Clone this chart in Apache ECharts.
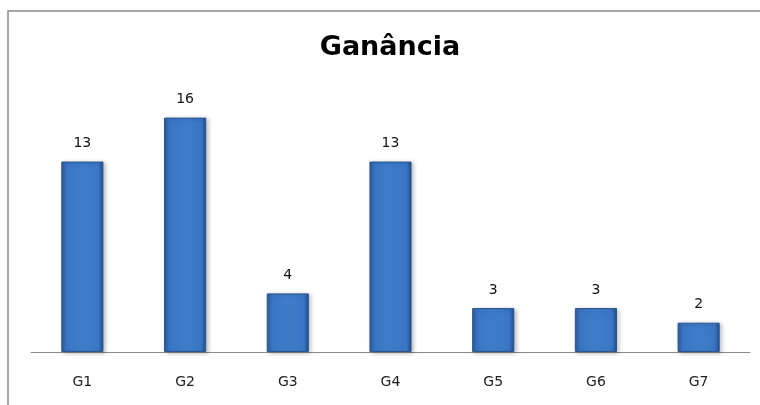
<!DOCTYPE html>
<html>
<head>
<meta charset="utf-8">
<script src="https://cdn.jsdelivr.net/npm/echarts@6/dist/echarts.min.js"></script>
<style>html,body{margin:0;padding:0;background:#fff}#c{width:760px;height:405px}</style>
</head>
<body>
<div id="c"></div>
<script>
const titleText = 'Ganância';
const categories = ['G1', 'G2', 'G3', 'G4', 'G5', 'G6', 'G7'];
const values = [13, 16, 4, 13, 3, 3, 2];

const chart = echarts.init(document.getElementById('c'));
chart.setOption({
  animation: false,
  backgroundColor: '#fff',
  title: {
    text: titleText,
    left: 385, top: 29, textAlign: 'center',
    textStyle: { fontFamily: 'DejaVu Sans', fontWeight: 'bold', fontSize: 27, color: '#000' }
  },
  graphic: [{
    type: 'rect', silent: true,
    shape: { x: 8, y: 11, width: 800, height: 500 },
    style: { fill: 'none', stroke: '#8a8a8a', lineWidth: 1.5 }
  }],
  grid: { left: 31, right: 10, top: 88.3, bottom: 53, containLabel: false },
  xAxis: {
    type: 'category', data: categories,
    axisLine: { lineStyle: { color: '#8c8c8c', width: 1 } },
    axisTick: { show: false },
    axisLabel: { color: '#222', fontFamily: 'DejaVu Sans', fontSize: 14, margin: 23 }
  },
  yAxis: { type: 'value', min: 0, max: 18, show: false, splitLine: { show: false } },
  series: [{
    type: 'bar', data: values, barWidth: '41%',
    itemStyle: {
      color: new echarts.graphic.LinearGradient(0, 0, 1, 0, [
        { offset: 0, color: '#2b5c9e' },
        { offset: 0.12, color: '#3a76c5' },
        { offset: 0.5, color: '#3e7cca' },
        { offset: 0.88, color: '#3a76c5' },
        { offset: 1, color: '#234e88' }
      ]),
      borderColor: '#2a5590', borderWidth: 1,
      shadowColor: 'rgba(0,0,0,0.25)', shadowBlur: 4, shadowOffsetX: 2, shadowOffsetY: 1
    },
    label: {
      show: true, position: 'top', distance: 11,
      color: '#111', fontFamily: 'DejaVu Sans', fontSize: 14
    }
  }]
});
</script>
</body>
</html>
